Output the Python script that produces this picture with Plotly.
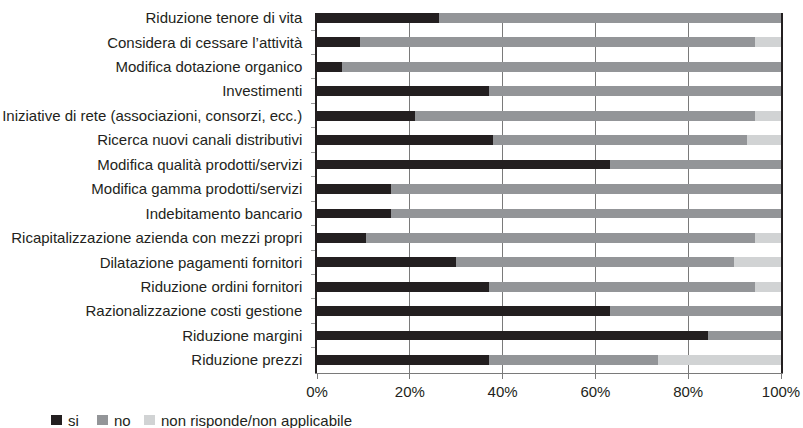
import plotly.graph_objects as go

# Survey responses per action, percentages of respondents
categories = [
    "Riduzione tenore di vita",
    "Considera di cessare l\u2019attività",
    "Modifica dotazione organico",
    "Investimenti",
    "Iniziative di rete (associazioni, consorzi, ecc.)",
    "Ricerca nuovi canali distributivi",
    "Modifica qualità prodotti/servizi",
    "Modifica gamma prodotti/servizi",
    "Indebitamento bancario",
    "Ricapitalizzazione azienda con mezzi propri",
    "Dilatazione pagamenti fornitori",
    "Riduzione ordini fornitori",
    "Razionalizzazione costi gestione",
    "Riduzione margini",
    "Riduzione prezzi",
]
si = [26.3, 9.3, 5.4, 37.1, 21.1, 37.9, 63.1, 15.9, 15.9, 10.6, 30.0, 37.1, 63.1, 84.3, 37.1]
no = [73.7, 85.1, 94.6, 62.9, 73.3, 54.8, 36.9, 84.1, 84.1, 83.8, 59.9, 57.3, 36.9, 15.7, 36.4]
non_risponde = [0.0, 5.6, 0.0, 0.0, 5.6, 7.3, 0.0, 0.0, 0.0, 5.6, 10.1, 5.6, 0.0, 0.0, 26.5]

x_ticks = [0, 20, 40, 60, 80, 100]
x_tick_labels = ["0%", "20%", "40%", "60%", "80%", "100%"]

series_names = ["si", "no", "non risponde/non applicabile"]
series_values = [si, no, non_risponde]
series_colors = ["#231f20", "#939598", "#d1d3d4"]

W, H = 803, 428
M_L, M_R, M_T, M_B = 317, 22, 13, 55
PLOT_W = W - M_L - M_R
PLOT_H = H - M_T - M_B


def px_to_paper_x(px):
    return (px - M_L) / PLOT_W


def px_to_paper_y(py):
    return (H - M_B - py) / PLOT_H


fig = go.Figure()
for name, vals, color in zip(series_names, series_values, series_colors):
    fig.add_trace(go.Bar(
        y=categories, x=vals, name=name, orientation="h",
        marker=dict(color=color, line=dict(width=0)),
        width=0.4, showlegend=False,
    ))

# Legend row below the chart: swatch + label for each series
legend_swatch_x = [51, 97, 144]
legend_text_x = [66, 112, 159]
shapes = []
annotations = []
for name, color, sx, tx in zip(series_names, series_colors, legend_swatch_x, legend_text_x):
    shapes.append(dict(
        type="rect", xref="paper", yref="paper",
        x0=px_to_paper_x(sx), x1=px_to_paper_x(sx + 11),
        y0=px_to_paper_y(425), y1=px_to_paper_y(415),
        fillcolor=color, line=dict(width=0), layer="above",
    ))
    annotations.append(dict(
        text=name, xref="paper", yref="paper",
        x=px_to_paper_x(tx), y=px_to_paper_y(420),
        xanchor="left", yanchor="middle", showarrow=False,
        font=dict(size=15, color="#231f20"),
    ))

fig.update_layout(
    barmode="stack",
    width=W, height=H,
    margin=dict(l=M_L, r=M_R, t=M_T, b=M_B, autoexpand=False),
    paper_bgcolor="white", plot_bgcolor="white",
    font=dict(family="Liberation Sans, Arial, sans-serif", size=15, color="#231f20"),
    showlegend=False,
    shapes=shapes,
    annotations=annotations,
    xaxis=dict(
        range=[0, 100], tickvals=x_ticks, ticktext=x_tick_labels,
        showgrid=True, gridcolor="#7a7a7a", gridwidth=1.3,
        showline=True, linecolor="#7a7a7a", linewidth=1.2,
        ticks="outside", ticklen=5, tickcolor="#7a7a7a", tickwidth=1.3,
        zeroline=False, fixedrange=True,
    ),
    yaxis=dict(
        categoryorder="array", categoryarray=categories,
        range=[14.53, -0.2],
        showline=True, linecolor="#231f20", linewidth=1.5, mirror=True,
        ticks="outside", tickson="boundaries", ticklen=4, tickcolor="#999999",
        ticklabelstandoff=10, showgrid=False,
    ),
)

fig.write_html("out.html")
